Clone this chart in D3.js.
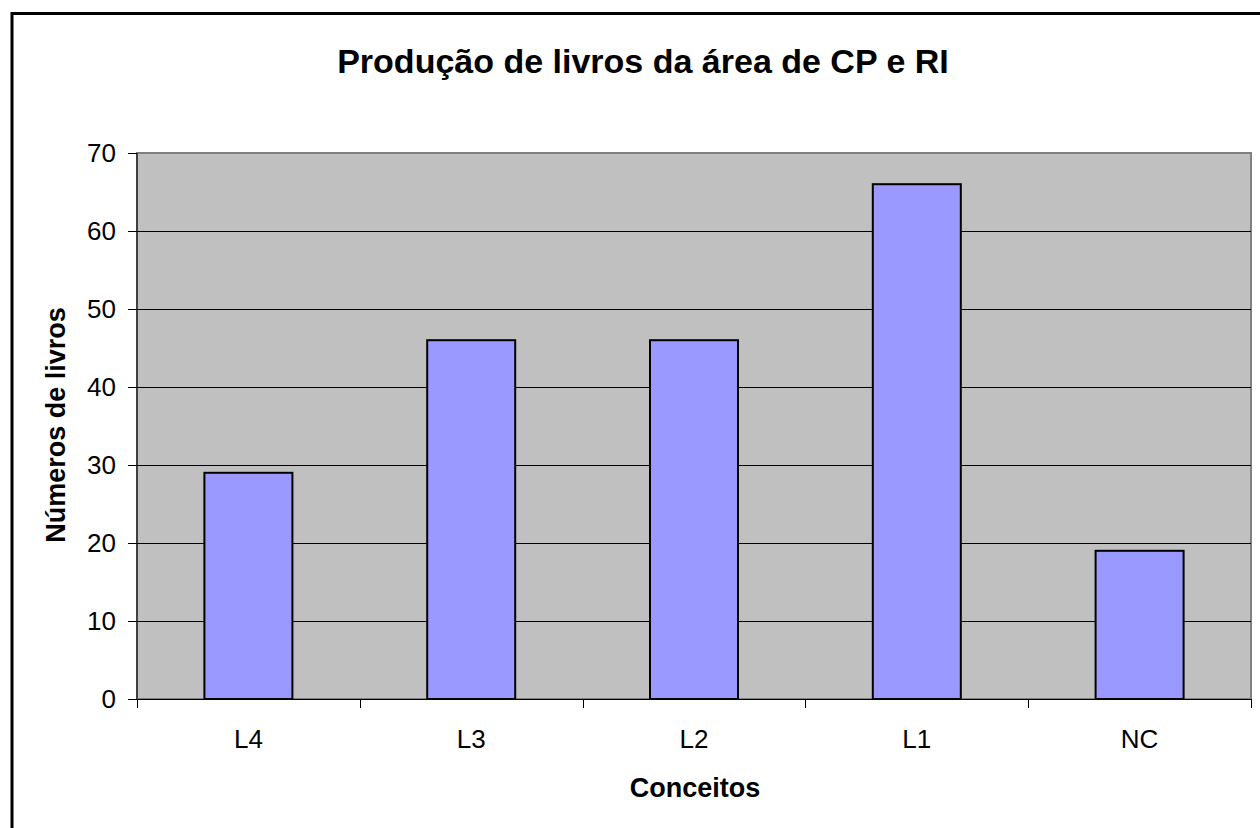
<!DOCTYPE html>
<html>
<head>
<meta charset="utf-8">
<script src="https://cdn.jsdelivr.net/npm/d3@7"></script>
<style>
  html, body { margin: 0; padding: 0; background: #fff; }
  svg { display: block; font-family: "Liberation Sans", Arial, sans-serif; }
</style>
</head>
<body>
<div id="chart"></div>
<script>
const categories = ["L4", "L3", "L2", "L1", "NC"];
const values = [29, 46, 46, 66, 19];
const y_ticks = [0, 10, 20, 30, 40, 50, 60, 70];

const width = 1260;
const height = 828;
const plot = { left: 137, top: 153, right: 1251, bottom: 699 };

const svg = d3
  .select("#chart")
  .append("svg")
  .attr("width", width)
  .attr("height", height);

// outer chart frame (right/bottom edges run off the picture)
svg
  .append("rect")
  .attr("x", 12)
  .attr("y", 13.5)
  .attr("width", 1300)
  .attr("height", 900)
  .attr("fill", "#fff")
  .attr("stroke", "#000")
  .attr("stroke-width", 3);

svg
  .append("text")
  .attr("x", 643)
  .attr("y", 73)
  .attr("text-anchor", "middle")
  .attr("font-size", 34)
  .attr("font-weight", "bold")
  .text("Produção de livros da área de CP e RI");

const X = d3
  .scaleBand()
  .domain(categories)
  .range([plot.left, plot.right])
  .paddingInner(0)
  .paddingOuter(0);

const Y = d3.scaleLinear().domain([0, 70]).range([plot.bottom, plot.top]);

// plot background
svg
  .append("rect")
  .attr("x", plot.left)
  .attr("y", plot.top)
  .attr("width", plot.right - plot.left)
  .attr("height", plot.bottom - plot.top)
  .attr("fill", "#c0c0c0")
  .attr("stroke", "#808080")
  .attr("stroke-width", 2);

// gridlines
svg
  .append("g")
  .selectAll("line")
  .data(y_ticks.filter((t) => t > 0 && t < 70))
  .enter()
  .append("line")
  .attr("x1", plot.left)
  .attr("x2", plot.right)
  .attr("y1", (d) => Math.round(Y(d)) + 0.5)
  .attr("y2", (d) => Math.round(Y(d)) + 0.5)
  .attr("stroke", "#000")
  .attr("stroke-width", 1);

// bars
const bar_w = X.bandwidth() * 0.395;
svg
  .append("g")
  .selectAll("rect")
  .data(categories.map((c, i) => ({ c, v: values[i] })))
  .enter()
  .append("rect")
  .attr("x", (d) => X(d.c) + X.bandwidth() / 2 - bar_w / 2)
  .attr("y", (d) => Y(d.v))
  .attr("width", bar_w)
  .attr("height", (d) => Y(0) - Y(d.v))
  .attr("fill", "#9999ff")
  .attr("stroke", "#000")
  .attr("stroke-width", 2);

// y axis
const y_axis = svg
  .append("g")
  .attr("transform", `translate(${plot.left},0)`)
  .call(d3.axisLeft(Y).tickValues(y_ticks).tickSize(9).tickPadding(12).tickFormat(d3.format("d")));
y_axis.selectAll("text").attr("font-size", 26).attr("fill", "#000").attr("font-family", "Liberation Sans, Arial, sans-serif");
y_axis.selectAll("line").attr("stroke", "#000");
y_axis.select(".domain").attr("stroke", "#000").attr("d", `M0,${plot.top}V${plot.bottom}`);

// x axis: ticks at category boundaries
const x_axis = svg.append("g");
x_axis
  .append("line")
  .attr("x1", plot.left - 9)
  .attr("x2", plot.right)
  .attr("y1", plot.bottom + 0.5)
  .attr("y2", plot.bottom + 0.5)
  .attr("stroke", "#000");
const boundaries = categories.map((c) => X(c)).concat([X.range()[1]]);
x_axis
  .selectAll("line.tick")
  .data(boundaries)
  .enter()
  .append("line")
  .classed("tick", true)
  .attr("x1", (d) => Math.round(d) + 0.5)
  .attr("x2", (d) => Math.round(d) + 0.5)
  .attr("y1", plot.bottom)
  .attr("y2", plot.bottom + 9)
  .attr("stroke", "#000");
x_axis
  .selectAll("text")
  .data(categories)
  .enter()
  .append("text")
  .attr("x", (d) => X(d) + X.bandwidth() / 2)
  .attr("y", 748)
  .attr("text-anchor", "middle")
  .attr("font-size", 26)
  .text((d) => d);

// axis titles
svg
  .append("text")
  .attr("x", 695)
  .attr("y", 797)
  .attr("text-anchor", "middle")
  .attr("font-size", 27)
  .attr("font-weight", "bold")
  .text("Conceitos");

svg
  .append("text")
  .attr("transform", "translate(65,425) rotate(-90)")
  .attr("text-anchor", "middle")
  .attr("font-size", 27)
  .attr("font-weight", "bold")
  .text("Números de livros");
</script>
</body>
</html>
